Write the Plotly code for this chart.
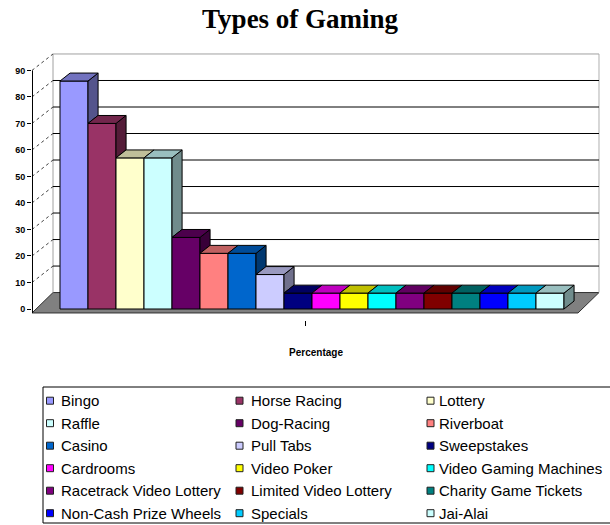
import plotly.graph_objects as go

# ---------------- data ----------------
categories = ["Bingo", "Horse Racing", "Lottery", "Raffle", "Dog-Racing", "Riverboat",
              "Casino", "Pull Tabs", "Sweepstakes", "Cardrooms", "Video Poker",
              "Video Gaming Machines", "Racetrack Video Lottery", "Limited Video Lottery",
              "Charity Game Tickets", "Non-Cash Prize Wheels", "Specials", "Jai-Alai"]
values = [86, 70, 57, 57, 27, 21, 21, 13, 6, 6, 6, 6, 6, 6, 6, 6, 6, 6]
colors = ["#9999FF", "#993366", "#FFFFCC", "#CCFFFF", "#660066", "#FF8080",
          "#0066CC", "#CCCCFF", "#000080", "#FF00FF", "#FFFF00", "#00FFFF",
          "#800080", "#800000", "#008080", "#0000FF", "#00CCFF", "#CCFFFF"]
y_ticks = [0, 10, 20, 30, 40, 50, 60, 70, 80, 90]
chart_title = "Types of Gaming"
x_title = "Percentage"

# ---------------- geometry ----------------
W, H = 610, 525
ML, MR, MT, MB = 32, 10, 50, 205
PW, PH = W - ML - MR, H - MT - MB
DX, DY = 0.36, 3.0      # bar depth (data units)
WX, WY = 0.75, 6.2      # back-wall offset (data units)
XMIN, XMAX = -1.5, 18.786
YMIN, YMAX = -4.15, 97.7
n = len(values)
FLOOR_R = n
FLOOR_F = -1.5


def shade(hex_color, f):
    h = hex_color.lstrip("#")
    r, g, b = (int(h[i:i + 2], 16) for i in (0, 2, 4))
    return "rgb(%d,%d,%d)" % (r * f, g * f, b * f)


def px(x):   # page pixel -> paper x
    return (x - ML) / PW


def py(y):   # page pixel -> paper y
    return (H - MB - y) / PH


fig = go.Figure()

# front faces of the bars
for i, (cat, v, c) in enumerate(zip(categories, values, colors)):
    fig.add_trace(go.Bar(x=[i], y=[v], width=1, name=cat, showlegend=False,
                         marker=dict(color=c, line=dict(color="black", width=1))))

# top and side faces
for i, (v, c) in enumerate(zip(values, colors)):
    v_next = values[i + 1] if i < n - 1 else 0
    if v > v_next:
        fig.add_trace(go.Scatter(
            x=[i + 0.5, i + 0.5, i + 0.5 + DX, i + 0.5 + DX, i + 0.5],
            y=[v_next, v, v + DY, v_next + DY, v_next],
            mode="lines", fill="toself", fillcolor=shade(c, 0.55),
            line=dict(color="black", width=1), hoverinfo="skip", showlegend=False))
    fig.add_trace(go.Scatter(
        x=[i - 0.5, i + 0.5, i + 0.5 + DX, i - 0.5 + DX, i - 0.5],
        y=[v, v, v + DY, v + DY, v],
        mode="lines", fill="toself", fillcolor=shade(c, 0.75),
        line=dict(color="black", width=1), hoverinfo="skip", showlegend=False))

shapes = []
wall_l, wall_r = XMIN + WX, FLOOR_R + WX
# floor
shapes.append(dict(type="path", layer="below",
                   path="M %f,%f L %f,%f L %f,%f L %f,%f Z" % (
                       XMIN, FLOOR_F, FLOOR_R, FLOOR_F, wall_r, WY, wall_l, WY),
                   fillcolor="#808080", line=dict(color="#303030", width=1)))
# back wall edges
shapes.append(dict(type="line", layer="below", x0=wall_l, x1=wall_l, y0=WY, y1=y_ticks[-1] + WY,
                   line=dict(color="#a0a0a0", width=1)))
shapes.append(dict(type="line", layer="below", x0=wall_r, x1=wall_r, y0=WY, y1=y_ticks[-1] + WY,
                   line=dict(color="#b0b0b0", width=1)))
for g in y_ticks[1:]:
    col = "#a0a0a0" if g == y_ticks[-1] else "black"
    shapes.append(dict(type="line", layer="below", x0=wall_l, x1=wall_r, y0=g + WY, y1=g + WY,
                       line=dict(color=col, width=1)))
for g in y_ticks[1:]:
    shapes.append(dict(type="line", layer="below", x0=XMIN, x1=wall_l, y0=g, y1=g + WY,
                       line=dict(color="#404040", width=1, dash="dot")))
# front value axis line
shapes.append(dict(type="line", layer="above", x0=XMIN, x1=XMIN, y0=FLOOR_F, y1=y_ticks[-1],
                   line=dict(color="black", width=2)))

# ---------------- legend (drawn as a boxed 3-column key) ----------------
annotations = []
LEG_TOP, LEG_BOT, LEG_LEFT, LEG_RIGHT = 387, 523, 43, 615
ROW0, ROW_STEP = 400.7, 22.5
SYM_X = [50, 239.5, 430.5]
TXT_X = [59, 249, 437]
shapes.append(dict(type="rect", xref="paper", yref="paper",
                   x0=px(LEG_LEFT), x1=px(LEG_RIGHT), y0=py(LEG_BOT), y1=py(LEG_TOP),
                   fillcolor="white", line=dict(color="black", width=1), layer="below"))
for k, (cat, c) in enumerate(zip(categories, colors)):
    r, col = divmod(k, 3)
    cy = ROW0 + r * ROW_STEP
    cx = SYM_X[col]
    shapes.append(dict(type="rect", xref="paper", yref="paper",
                       x0=px(cx - 3.5), x1=px(cx + 3.5), y0=py(cy + 3.5), y1=py(cy - 3.5),
                       fillcolor=c, line=dict(color="#202020", width=1)))
    annotations.append(dict(xref="paper", yref="paper", x=px(TXT_X[col]), y=py(cy),
                            xanchor="left", yanchor="middle", showarrow=False, text=cat,
                            font=dict(family="Liberation Sans", size=15, color="black")))

fig.update_layout(
    width=W, height=H,
    paper_bgcolor="white", plot_bgcolor="rgba(0,0,0,0)",
    margin=dict(l=ML, r=MR, t=MT, b=MB, autoexpand=False),
    barmode="overlay",
    showlegend=False,
    title=dict(text="<b>" + chart_title + "</b>", x=0.492, xref="container",
               y=0.964, yref="container", xanchor="center", yanchor="middle",
               font=dict(family="Liberation Serif", size=27, color="black")),
    xaxis=dict(range=[XMIN, XMAX], showgrid=False, zeroline=False, showline=False,
               tickvals=[(XMIN + FLOOR_R) / 2], ticktext=[""], ticks="outside",
               ticklen=5, tickcolor="black",
               title=dict(text="<b>" + x_title + "</b>", standoff=21,
                          font=dict(family="Liberation Sans", size=10, color="black"))),
    yaxis=dict(range=[YMIN, YMAX], showgrid=False, zeroline=False, showline=False,
               tickvals=y_ticks, ticktext=["<b>%d</b>" % t for t in y_ticks],
               ticks="outside", ticklen=4, tickcolor="black",
               tickfont=dict(family="Liberation Sans", size=9, color="black")),
    shapes=shapes,
    annotations=annotations,
)

fig.write_html("out.html", config={"displayModeBar": False},
               post_script="document.body.style.margin='0px';")
